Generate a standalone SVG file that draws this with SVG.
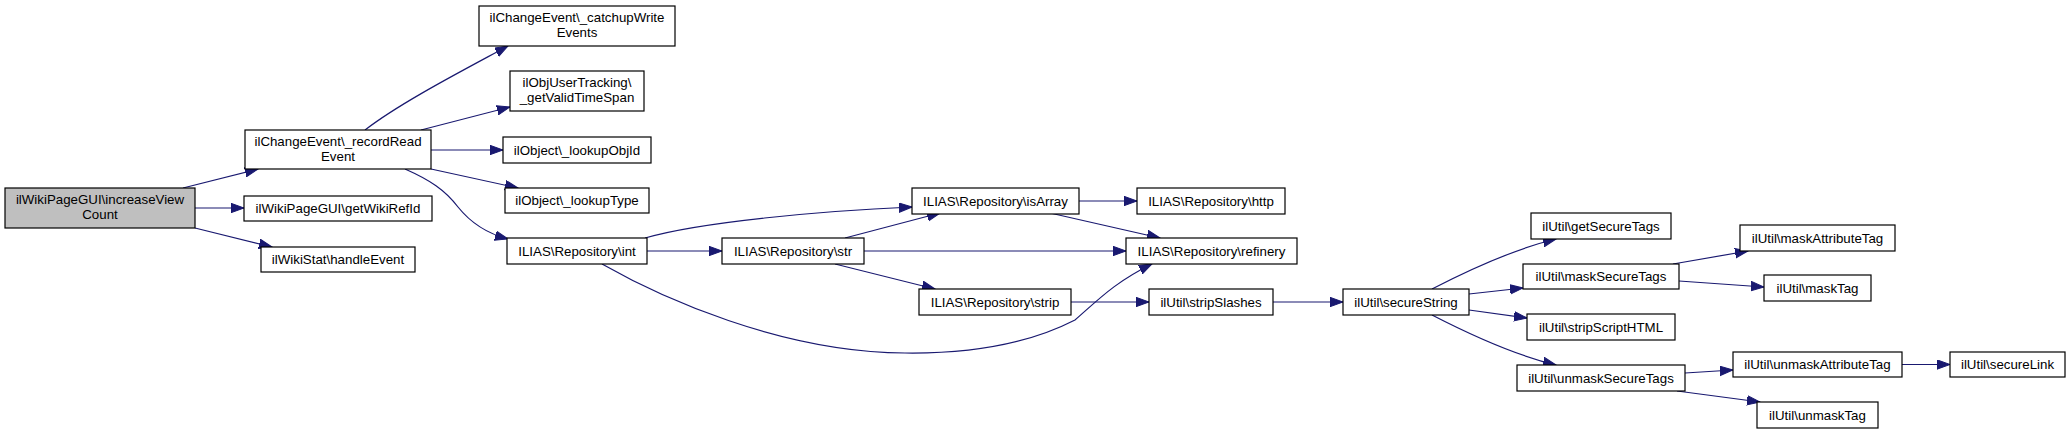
<svg xmlns="http://www.w3.org/2000/svg" width="2071" height="434" viewBox="0 0 2071 434">
<style>
.n rect{fill:#ffffff;stroke:#000000;stroke-width:1.2}
.n.root rect{fill:#bfbfbf}
.n text{font-family:"Liberation Sans",Arial,Helvetica,sans-serif;font-size:13.3px;fill:#000000;text-anchor:middle}
.e path{fill:none;stroke:#191970;stroke-width:1.2;marker-end:url(#ah)}
</style>
<defs>
<marker id="ah" markerWidth="14" markerHeight="11" refX="13" refY="5" orient="auto" markerUnits="userSpaceOnUse">
<path d="M0,0.3 L13,5 L0,9.7 z" fill="#191970" stroke="#191970" stroke-width="1"/>
</marker>
</defs>
<rect x="0" y="0" width="2071" height="434" fill="#ffffff"/>
<g id="connectors" class="e">
<path d="M183,188 L258,169"/>
<path d="M195,208 L244,208"/>
<path d="M195,228 L272,247"/>
<path d="M365,130 C400,103 460,72 508,46"/>
<path d="M421,130 L510,107"/>
<path d="M431,150 L503,150"/>
<path d="M431,169 L518,188"/>
<path d="M405,169 C430,180 445,190 458,207 C470,222 485,233 508,239"/>
<path d="M645,238 C700,222 820,211 912,207"/>
<path d="M647,251 L722,251"/>
<path d="M602,264 C660,297 780,352 905,353 C985,354 1040,338 1075,320 C1098,300 1115,282 1152,264"/>
<path d="M845,238 L940,213"/>
<path d="M864,251 L1126,251"/>
<path d="M835,264 L935,289"/>
<path d="M1079,201 L1137,201"/>
<path d="M1050,213 L1160,238"/>
<path d="M1071,302 L1149,302"/>
<path d="M1273,302 L1343,302"/>
<path d="M1432,289 C1465,272 1510,250 1556,239"/>
<path d="M1469,294 L1523,288"/>
<path d="M1469,310 L1527,318"/>
<path d="M1432,315 C1465,332 1510,354 1556,365"/>
<path d="M1673,264 L1748,251"/>
<path d="M1679,281 L1764,287"/>
<path d="M1685,373 L1733,370"/>
<path d="M1677,391 L1760,402"/>
<path d="M1902,364.5 L1950,364.5"/>
</g>
<g id="increaseViewCount" class="n root"><rect x="5" y="188" width="190" height="40"/><text x="100" y="204">ilWikiPageGUI\increaseView</text><text x="100" y="219">Count</text></g>
<g id="recordReadEvent" class="n"><rect x="245" y="130" width="186" height="39"/><text x="338" y="146">ilChangeEvent\_recordRead</text><text x="338" y="161">Event</text></g>
<g id="getWikiRefId" class="n"><rect x="244" y="196" width="188" height="25"/><text x="338" y="213">ilWikiPageGUI\getWikiRefId</text></g>
<g id="handleEvent" class="n"><rect x="261" y="247" width="154" height="25"/><text x="338" y="264">ilWikiStat\handleEvent</text></g>
<g id="catchupWriteEvents" class="n"><rect x="479" y="6" width="196" height="40"/><text x="577" y="22">ilChangeEvent\_catchupWrite</text><text x="577" y="37">Events</text></g>
<g id="getValidTimeSpan" class="n"><rect x="510" y="71" width="134" height="40"/><text x="577" y="87">ilObjUserTracking\</text><text x="577" y="102">_getValidTimeSpan</text></g>
<g id="lookupObjId" class="n"><rect x="503" y="137" width="148" height="26"/><text x="577" y="154.5">ilObject\_lookupObjId</text></g>
<g id="lookupType" class="n"><rect x="505" y="188" width="144" height="25"/><text x="577" y="205">ilObject\_lookupType</text></g>
<g id="int" class="n"><rect x="507" y="238" width="140" height="26"/><text x="577" y="255.5">ILIAS\Repository\int</text></g>
<g id="str" class="n"><rect x="722" y="238" width="142" height="26"/><text x="793" y="255.5">ILIAS\Repository\str</text></g>
<g id="isArray" class="n"><rect x="912" y="188" width="167" height="26"/><text x="995.5" y="205.5">ILIAS\Repository\isArray</text></g>
<g id="strip" class="n"><rect x="919" y="289" width="152" height="26"/><text x="995" y="306.5">ILIAS\Repository\strip</text></g>
<g id="http" class="n"><rect x="1137" y="188" width="148" height="26"/><text x="1211" y="205.5">ILIAS\Repository\http</text></g>
<g id="refinery" class="n"><rect x="1126" y="238" width="171" height="26"/><text x="1211.5" y="255.5">ILIAS\Repository\refinery</text></g>
<g id="stripSlashes" class="n"><rect x="1149" y="289" width="124" height="26"/><text x="1211" y="306.5">ilUtil\stripSlashes</text></g>
<g id="secureString" class="n"><rect x="1343" y="289" width="126" height="26"/><text x="1406" y="306.5">ilUtil\secureString</text></g>
<g id="getSecureTags" class="n"><rect x="1531" y="213" width="140" height="26"/><text x="1601" y="230.5">ilUtil\getSecureTags</text></g>
<g id="maskSecureTags" class="n"><rect x="1523" y="264" width="156" height="25"/><text x="1601" y="281">ilUtil\maskSecureTags</text></g>
<g id="stripScriptHTML" class="n"><rect x="1527" y="314" width="148" height="26"/><text x="1601" y="331.5">ilUtil\stripScriptHTML</text></g>
<g id="unmaskSecureTags" class="n"><rect x="1517" y="365" width="168" height="26"/><text x="1601" y="382.5">ilUtil\unmaskSecureTags</text></g>
<g id="maskAttributeTag" class="n"><rect x="1740" y="225" width="155" height="26"/><text x="1817.5" y="242.5">ilUtil\maskAttributeTag</text></g>
<g id="maskTag" class="n"><rect x="1764" y="275" width="107" height="26"/><text x="1817.5" y="292.5">ilUtil\maskTag</text></g>
<g id="unmaskAttributeTag" class="n"><rect x="1733" y="352" width="169" height="25"/><text x="1817.5" y="369">ilUtil\unmaskAttributeTag</text></g>
<g id="unmaskTag" class="n"><rect x="1757" y="402" width="121" height="26"/><text x="1817.5" y="419.5">ilUtil\unmaskTag</text></g>
<g id="secureLink" class="n"><rect x="1950" y="352" width="115" height="25"/><text x="2007.5" y="369">ilUtil\secureLink</text></g>
</svg>
